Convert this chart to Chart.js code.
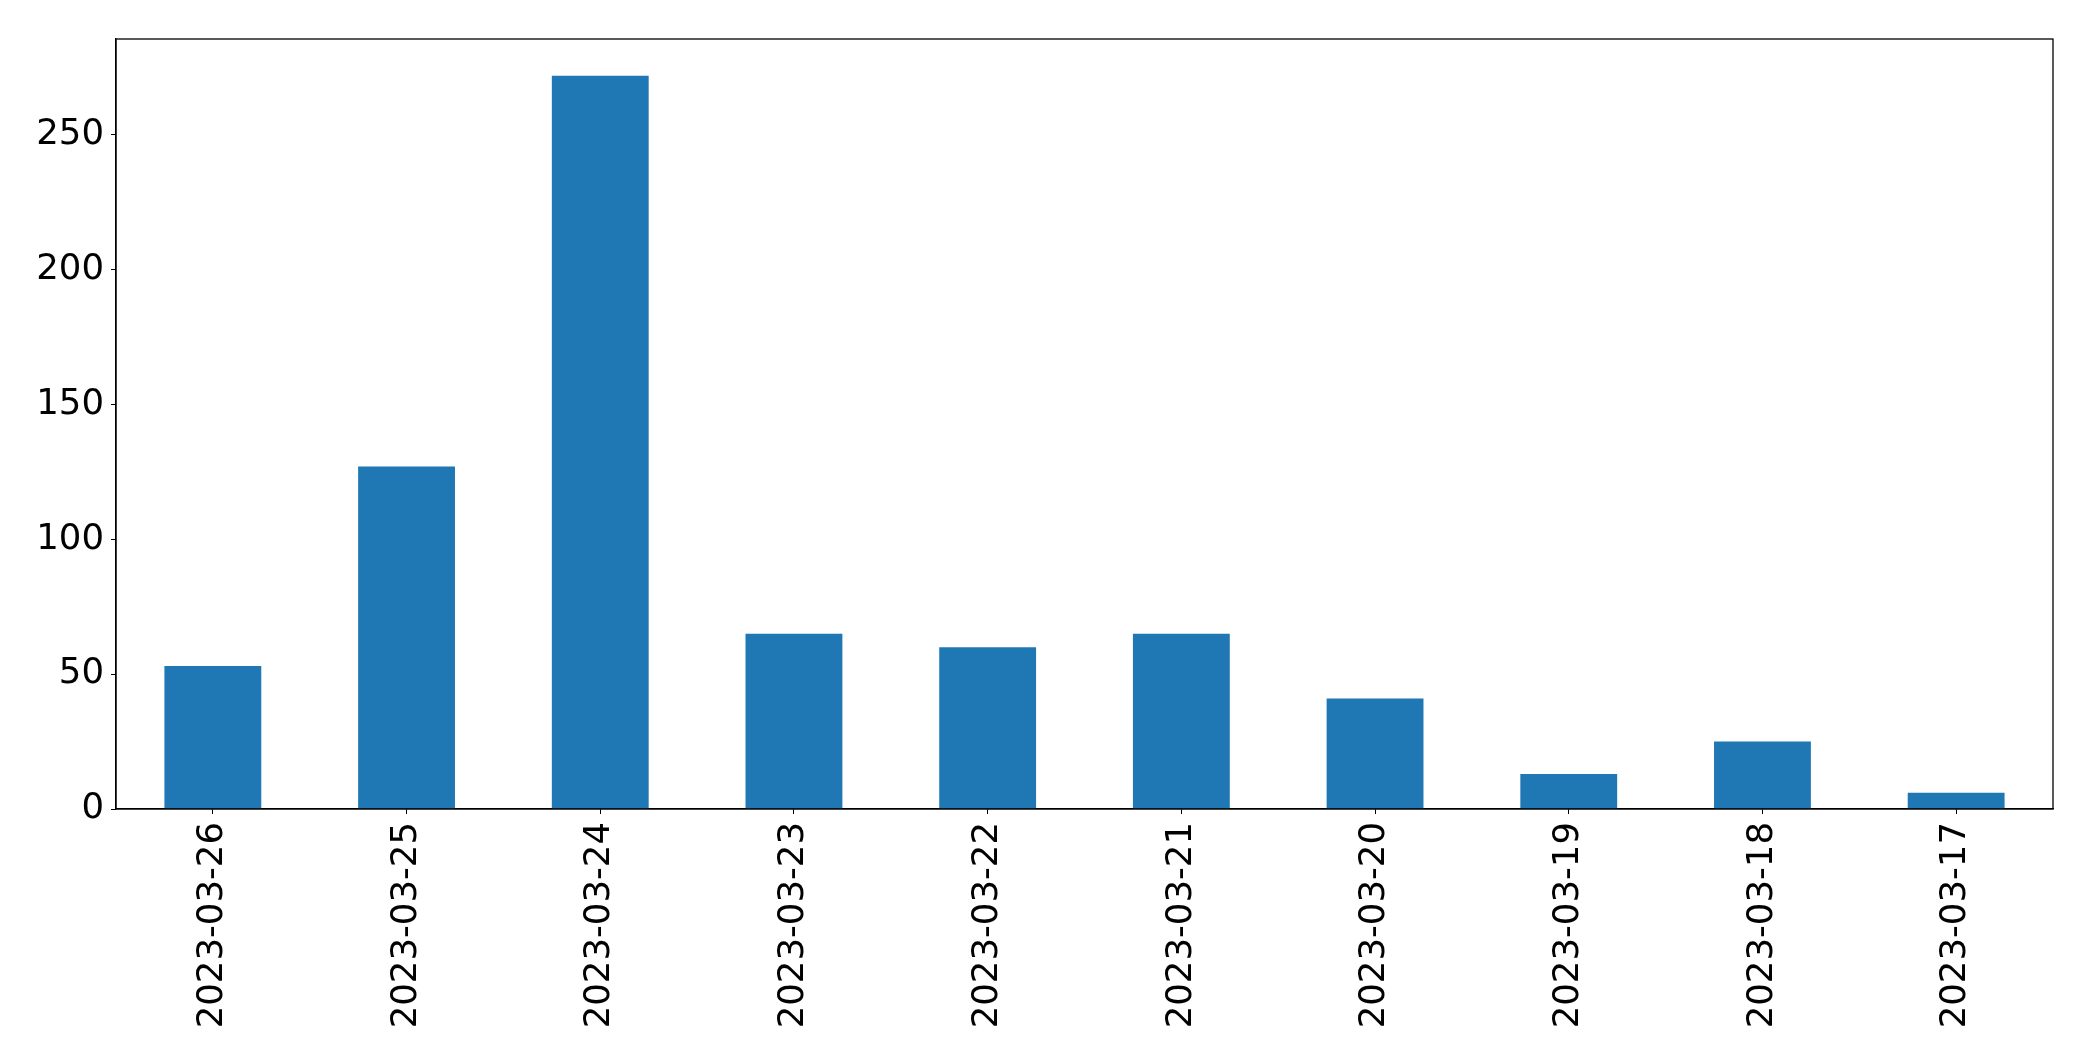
<!DOCTYPE html>
<html>
<head>
<meta charset="utf-8">
<script src="https://cdn.jsdelivr.net/npm/chart.js@4"></script>
<style>
  html, body { margin: 0; padding: 0; background: #fff; }
  #wrap { width: 2093px; height: 1061px; }
</style>
</head>
<body>
<div id="wrap"><canvas id="chart" width="2093" height="1061"></canvas></div>
<script>
const dates = ['2023-03-26', '2023-03-25', '2023-03-24', '2023-03-23', '2023-03-22',
               '2023-03-21', '2023-03-20', '2023-03-19', '2023-03-18', '2023-03-17'];
const counts = [53, 127, 272, 65, 60, 65, 41, 13, 25, 6];
const yTicks = [0, 50, 100, 150, 200, 250];

// top + right spines, matplotlib style box
const frame = {
  id: 'frame',
  afterDraw(chart) {
    const {ctx, chartArea: a} = chart;
    ctx.save();
    ctx.strokeStyle = '#000';
    ctx.lineWidth = 1.3;
    ctx.strokeRect(a.left, a.top, a.right - a.left, a.bottom - a.top);
    ctx.restore();
  }
};

const font = {family: 'DejaVu Sans', size: 35.5};

new Chart(document.getElementById('chart'), {
  type: 'bar',
  data: {
    labels: dates,
    datasets: [{
      data: counts,
      backgroundColor: '#1f77b4',
      categoryPercentage: 1,
      barPercentage: 0.5
    }]
  },
  options: {
    responsive: false,
    animation: false,
    layout: {padding: {top: 39, right: 40, left: 0, bottom: 0}},
    plugins: {legend: {display: false}, tooltip: {enabled: false}},
    scales: {
      x: {
        offset: true,
        grid: {drawOnChartArea: false, drawTicks: true, tickLength: 5, color: '#000', offset: false},
        border: {display: true, color: '#000', width: 1.3},
        ticks: {color: '#000', font, minRotation: 90, maxRotation: 90, padding: 8, autoSkip: false},
        afterFit(s) { s.height = 252; }
      },
      y: {
        min: 0,
        max: 285.6,
        afterBuildTicks(s) { s.ticks = yTicks.map(v => ({value: v})); },
        grid: {drawOnChartArea: false, drawTicks: true, tickLength: 5, color: '#000'},
        border: {display: true, color: '#000', width: 1.3},
        ticks: {color: '#000', font, padding: 7},
        afterFit(s) { s.width = 116; }
      }
    }
  },
  plugins: [frame]
});
</script>
</body>
</html>
